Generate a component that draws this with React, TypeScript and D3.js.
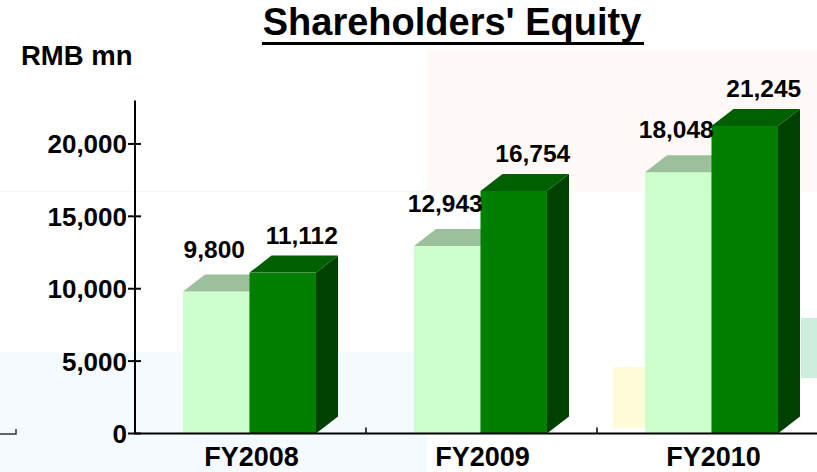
import React from 'react';
import * as d3 from 'd3';

// chart values
const categories = ['FY2008', 'FY2009', 'FY2010'];
const seriesKeys = ['prev', 'curr'];
const prevValues = [9800, 12943, 18048];
const currValues = [11112, 16754, 21245];
const yTicks = [0, 5000, 10000, 15000, 20000];

const W = 817;
const H = 472;
const DX = 22; // 3D depth
const DY = 17;
const FONT = 'Arial, "Liberation Sans", Helvetica, sans-serif';

const palette = {
  prev: { front: '#ccffcc', top: '#9cbf9c', side: '#7fa87f' },
  curr: { front: '#007f00', top: '#005f00', side: '#004000' },
};

const fmt = d3.format(',');

export default function App() {
  const x = d3.scaleBand<string>().domain(categories).range([135, 828]).paddingInner(0).paddingOuter(0);
  const inner = d3.scaleBand<string>().domain(seriesKeys).range([48, 181]);
  const y = d3.scaleLinear().domain([0, 23000]).range([433.5, 100.5]);
  const y0 = y(0);

  const bar = (cat: string, key: string, v: number) => {
    const x0 = (x(cat) || 0) + (inner(key) || 0);
    const w = inner.bandwidth();
    const yt = y(v);
    const c = palette[key as 'prev' | 'curr'];
    const top = `${x0},${yt} ${x0 + w},${yt} ${x0 + w + DX},${yt - DY} ${x0 + DX},${yt - DY}`;
    const side = `${x0 + w},${yt} ${x0 + w + DX},${yt - DY} ${x0 + w + DX},${y0 - DY} ${x0 + w},${y0}`;
    return (
      <g key={cat + key}>
        <polygon points={side} fill={c.side} />
        <rect x={x0} y={yt} width={w} height={y0 - yt} fill={c.front} />
        <polygon points={top} fill={c.top} />
      </g>
    );
  };

  const label = (cat: string, key: string, v: number) => {
    const cx = (x(cat) || 0) + (inner(key) || 0) + inner.bandwidth() / 2;
    const isPrev = key === 'prev';
    return (
      <text
        key={'l' + cat + key}
        x={cx + (isPrev ? -2 : 19)}
        y={y(v) - (isPrev ? 34 : 29)}
        textAnchor="middle"
        fontSize={24.5}
        fontWeight="bold"
        fill="#000"
      >
        {fmt(v)}
      </text>
    );
  };

  return (
    <svg
      width={W}
      height={H}
      style={{ position: 'absolute', left: 0, top: 0, background: '#fff', fontFamily: FONT }}
    >
      {/* slide background shapes */}
      <rect x={0} y={0} width={W} height={H} fill="#ffffff" />
      <rect x={427} y={50} width={390} height={142} fill="#fffaf7" />
      <line x1={0} x2={427} y1={191.5} y2={191.5} stroke="#f6f6f6" strokeWidth={1} />
      <rect x={0} y={352} width={427} height={120} fill="#f5faff" />
      <rect x={613} y={367} width={40} height={61} fill="#fffbd8" />
      <rect x={801} y={318} width={16} height={60} fill="#cdeedd" />
      <path d="M0,434 H16 V429" fill="none" stroke="#333" strokeWidth={1.5} />

      {/* title */}
      <text x={452} y={35} textAnchor="middle" fontSize={38} fontWeight="bold" fill="#000">
        Shareholders' Equity
      </text>
      <line x1={262} x2={644} y1={43.5} y2={43.5} stroke="#000" strokeWidth={3} />

      <text x={21} y={65} fontSize={27.5} fontWeight="bold" fill="#000">
        RMB mn
      </text>

      {/* bars */}
      {categories.map((c, i) => (
        <g key={c}>
          {bar(c, 'prev', prevValues[i])}
          {bar(c, 'curr', currValues[i])}
        </g>
      ))}

      {/* y axis */}
      <line x1={135} x2={135} y1={y(23000)} y2={y0} stroke="#000" strokeWidth={2} />
      {yTicks.map(t => (
        <g key={t}>
          <line x1={128} x2={141} y1={y(t)} y2={y(t)} stroke="#000" strokeWidth={2} />
          <text x={127} y={y(t) + 9.5} textAnchor="end" fontSize={26} fontWeight="bold" fill="#000">
            {fmt(t)}
          </text>
        </g>
      ))}

      {/* x axis */}
      <line x1={134} x2={W} y1={y0} y2={y0} stroke="#000" strokeWidth={2} />
      {categories.slice(1).map(c => (
        <line key={c} x1={x(c)} x2={x(c)} y1={y0 - 6} y2={y0} stroke="#000" strokeWidth={1.5} />
      ))}
      {categories.map(c => (
        <text
          key={c}
          x={(x(c) || 0) + x.bandwidth() / 2 + 1}
          y={466}
          textAnchor="middle"
          fontSize={27}
          fontWeight="bold"
          fill="#000"
        >
          {c}
        </text>
      ))}

      {/* value labels */}
      {categories.map((c, i) => (
        <g key={'v' + c}>
          {label(c, 'prev', prevValues[i])}
          {label(c, 'curr', currValues[i])}
        </g>
      ))}
    </svg>
  );
}
